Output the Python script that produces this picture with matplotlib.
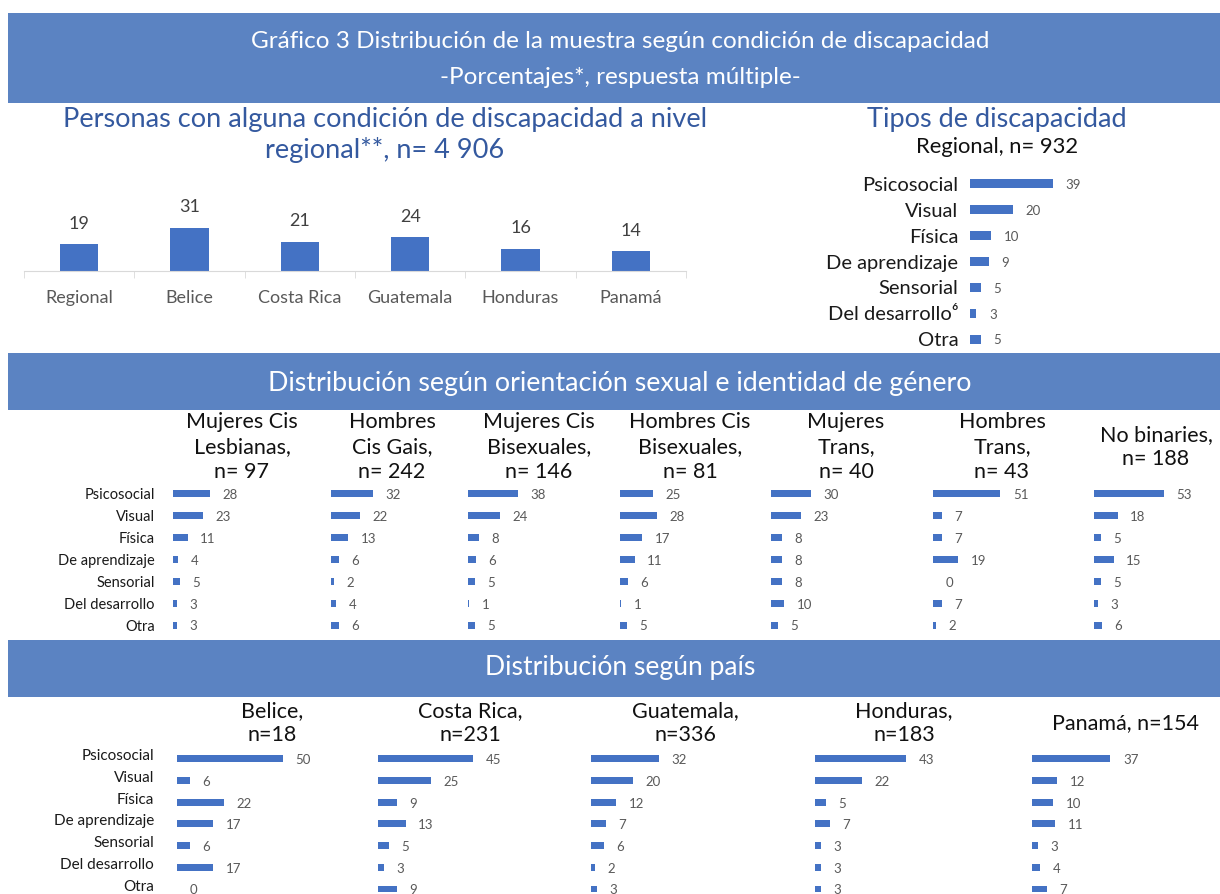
import matplotlib
matplotlib.use("Agg")
import matplotlib.pyplot as plt
from matplotlib.patches import Rectangle
from matplotlib.transforms import ScaledTranslation
import numpy as np

plt.rcParams['font.family'] = ['Lato', 'DejaVu Sans']

W, H = 1220, 894
BAND = "#5B83C2"
BAR = "#4472C4"
BLUE_TXT = "#34599F"
GRAY = "#595959"

# --- data ---
top_countries = ["Regional", "Belice", "Costa Rica", "Guatemala", "Honduras", "Panamá"]
top_pct = [19, 31, 21, 24, 16, 14]

tipos = ["Psicosocial", "Visual", "Física", "De aprendizaje", "Sensorial",
         "Del desarrollo", "Otra"]
tipos_regional = ["Psicosocial", "Visual", "Física", "De aprendizaje", "Sensorial",
                  "Del desarrollo\u2076", "Otra"]
regional_pct = [39, 20, 10, 9, 5, 3, 5]

group_titles = ["Mujeres Cis\nLesbianas,\nn= 97", "Hombres\nCis Gais,\nn= 242",
                "Mujeres Cis\nBisexuales,\nn= 146", "Hombres Cis\nBisexuales,\nn= 81",
                "Mujeres\nTrans,\nn= 40", "Hombres\nTrans,\nn= 43", "No binaries,\nn= 188"]
lesbianas = [28, 23, 11, 4, 5, 3, 3]
gais = [32, 22, 13, 6, 2, 4, 6]
mujeres_bi = [38, 24, 8, 6, 5, 1, 5]
hombres_bi = [25, 28, 17, 11, 6, 1, 5]
mujeres_trans = [30, 23, 8, 8, 8, 10, 5]
hombres_trans = [51, 7, 7, 19, 0, 7, 2]
no_binaries = [53, 18, 5, 15, 5, 3, 6]
group_values = [lesbianas, gais, mujeres_bi, hombres_bi, mujeres_trans,
                hombres_trans, no_binaries]

country_titles = ["Belice,\nn=18", "Costa Rica,\nn=231", "Guatemala,\nn=336",
                  "Honduras,\nn=183", "Panamá, n=154"]
belice = [50, 6, 22, 17, 6, 17, 0]
costa_rica = [45, 25, 9, 13, 5, 3, 9]
guatemala = [32, 20, 12, 7, 6, 2, 3]
honduras = [43, 22, 5, 7, 3, 3, 3]
panama = [37, 12, 10, 11, 3, 4, 7]
country_values = [belice, costa_rica, guatemala, honduras, panama]


fig = plt.figure(figsize=(W / 100, H / 100), dpi=100)


def px_axes(left, top, right, bottom):
    return fig.add_axes([left / W, 1 - bottom / H, (right - left) / W, (bottom - top) / H])


def band(top, bottom, text_lines):
    fig.add_artist(Rectangle((8 / W, 1 - bottom / H), (W - 8) / W, (bottom - top) / H,
                             transform=fig.transFigure, color=BAND, lw=0))
    for y, txt, size in text_lines:
        fig.text(620 / W, 1 - y / H, txt, ha="center", va="center", color="white",
                 fontsize=size)


def hbar_panel(left, top, bottom, scale, values, bar_h, labels=None, pad=10,
               label_size=10.5, label_shift=0):
    ax = px_axes(left, top, left + 120, bottom)
    y = np.arange(len(values))
    ax.barh(y, values, height=bar_h, color=BAR)
    ax.set_xlim(0, 120 / scale)
    ax.set_ylim(len(values) - 0.5, -0.5)
    for s in ax.spines.values():
        s.set_visible(False)
    ax.set_xticks([])
    ax.patch.set_alpha(0)
    if labels is not None:
        ax.set_yticks(y, labels)
        ax.tick_params(axis="y", length=0, pad=pad, labelsize=label_size,
                       labelcolor="#1A1A1A")
        if label_shift:
            for lbl in ax.get_yticklabels():
                lbl.set_transform(lbl.get_transform() +
                                  ScaledTranslation(0, label_shift / 100, fig.dpi_scale_trans))
    else:
        ax.set_yticks([])
    for yi, v in zip(y, values):
        ax.annotate(str(v), (v, yi), xytext=(9, -1), textcoords="offset points",
                    ha="left", va="center", fontsize=9.5, color=GRAY)
    return ax


# --- header band ---
band(13, 103, [(42, "Gráfico 3 Distribución de la muestra según condición de discapacidad", 17.5),
               (78, "-Porcentajes*, respuesta múltiple-", 17.5)])

# --- top left: regional bars ---
fig.text(385 / W, 1 - 120 / H, "Personas con alguna condición de discapacidad a nivel",
         ha="center", va="center", fontsize=19.5, color=BLUE_TXT)
fig.text(385 / W, 1 - 150 / H, "regional**, n= 4 906",
         ha="center", va="center", fontsize=19.5, color=BLUE_TXT)

ax = px_axes(24, 190, 686, 271)
x = np.arange(len(top_countries))
ax.bar(x, top_pct, width=0.35, color=BAR)
ax.set_xlim(-0.5, len(top_countries) - 0.5)
ax.set_ylim(0, 81 / 1.4)
for s in ["top", "right", "left"]:
    ax.spines[s].set_visible(False)
ax.spines["bottom"].set_color("#D9D9D9")
ax.set_yticks([])
ax.set_xticks(x, top_countries)
ax.set_xticks(np.arange(-0.5, len(top_countries)), minor=True)
ax.tick_params(axis="x", which="major", length=0, pad=14, labelsize=13, labelcolor=GRAY)
ax.tick_params(axis="x", which="minor", length=5, color="#D9D9D9")
ax.patch.set_alpha(0)
for xi, v in zip(x, top_pct):
    ax.annotate(str(v), (xi, v), xytext=(0, 9), textcoords="offset points",
                ha="center", va="bottom", fontsize=13, color="#404040")

# --- top right: regional types ---
fig.text(997 / W, 1 - 119 / H, "Tipos de discapacidad", ha="center", va="center",
         fontsize=19.5, color=BLUE_TXT)
fig.text(997 / W, 1 - 147 / H, "Regional, n= 932", ha="center", va="center",
         fontsize=15.8, color="#111111")
hbar_panel(970, 171, 352, 2.13, regional_pct, 0.35, labels=tipos_regional, pad=8.5,
           label_size=14.5)

# --- middle band: orientation / identity ---
band(353, 410, [(383, "Distribución según orientación sexual e identidad de género", 19.3)])

group_starts = [173, 331, 468, 620, 771, 933, 1094]
group_centers = [242, 392, 539, 690, 846, 1002, 1156]
for i, (start, cx, title, vals) in enumerate(zip(group_starts, group_centers,
                                                   group_titles, group_values)):
    fig.text(cx / W, 1 - 447 / H, title, ha="center", va="center", fontsize=15.5,
             linespacing=1.3, color="#111111")
    hbar_panel(start, 483, 636, 1.32, vals, 0.32,
               labels=tipos if i == 0 else None, pad=13, label_size=10.5)

# --- bottom band: countries ---
band(640, 697, [(668, "Distribución según país", 19.1)])

country_starts = [177, 378, 591, 815, 1032]
country_centers = [272, 470, 685, 904, 1125]
for i, (start, cx, title, vals) in enumerate(zip(country_starts, country_centers,
                                                   country_titles, country_values)):
    fig.text(cx / W, 1 - 723 / H, title, ha="center", va="center", fontsize=15.5,
             linespacing=1.3, color="#111111")
    ax = hbar_panel(start, 748, 894, 2.12, vals, 0.32,
                    labels=tipos if i == 0 else None, pad=16.5, label_size=11,
                    label_shift=4)
    ax.set_ylim(6 + 5 / 21.7, -0.5)

fig.savefig("out.png", dpi=100, facecolor="white")
